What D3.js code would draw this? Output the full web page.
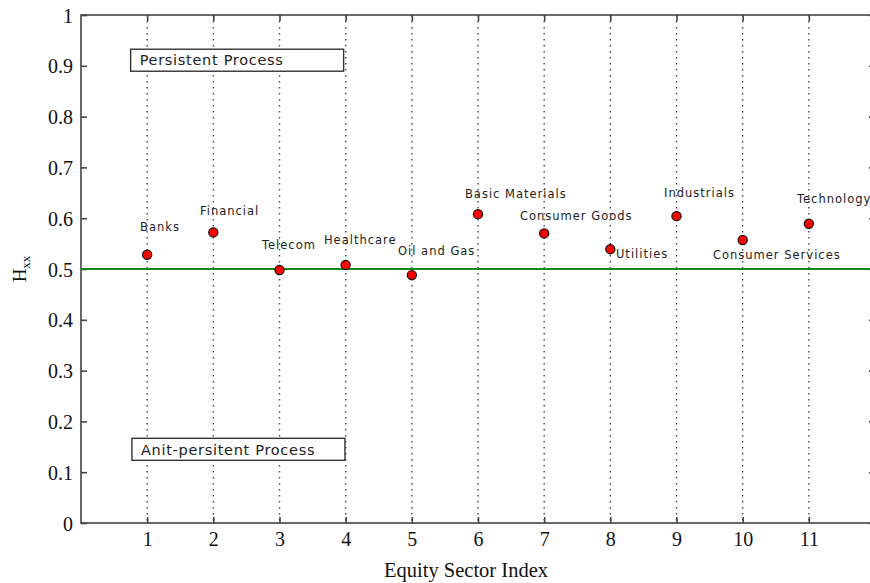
<!DOCTYPE html>
<html>
<head>
<meta charset="utf-8">
<script src="https://cdn.jsdelivr.net/npm/d3@7"></script>
<style>
  html, body { margin: 0; padding: 0; background: #fff; }
  svg { display: block; }
</style>
</head>
<body>
<svg id="chart" width="870" height="583"></svg>
<script>
// Hurst exponent per equity sector
const sectors = ["Banks", "Financial", "Telecom", "Healthcare", "Oil and Gas",
  "Basic Materials", "Consumer Goods", "Utilities", "Industrials",
  "Consumer Services", "Technology"];
const sectorIndex = [1, 2, 3, 4, 5, 6, 7, 8, 9, 10, 11];
const hurst = [0.528, 0.572, 0.498, 0.508, 0.488, 0.608, 0.570, 0.539, 0.604, 0.557, 0.589];
// label anchors (data units, left/middle of text)
const labelX = [0.892, 1.798, 2.735, 3.672, 4.791, 5.803, 6.634, 8.085, 8.811, 9.551, 10.82];
const labelY = [0.583, 0.614, 0.547, 0.557, 0.535, 0.648, 0.604, 0.529, 0.650, 0.527, 0.638];
const xTicks = [1, 2, 3, 4, 5, 6, 7, 8, 9, 10, 11];
const yTicks = [0, 0.1, 0.2, 0.3, 0.4, 0.5, 0.6, 0.7, 0.8, 0.9, 1];
const threshold = 0.5;
const regionNotes = [
  { text: "Persistent Process", x: 0.75, y: 0.911 },
  { text: "Anit-persitent Process", x: 0.77, y: 0.145 }
];

const svg = d3.select("#chart");
const plotL = 81, plotR = 875, plotT = 15, plotB = 523;
const x = d3.scaleLinear().domain([0, 12]).range([plotL, plotR]);
const y = d3.scaleLinear().domain([0, 1]).range([plotB, plotT]);

// vertical dotted grid
svg.append("g").selectAll("line").data(xTicks).join("line")
  .attr("x1", d => x(d)).attr("x2", d => x(d))
  .attr("y1", plotT).attr("y2", plotB)
  .attr("stroke", "#444").attr("stroke-width", 1.4)
  .attr("stroke-dasharray", "1.5,4.5");

// axes frame
svg.append("rect").attr("x", plotL).attr("y", plotT)
  .attr("width", plotR - plotL).attr("height", plotB - plotT)
  .attr("fill", "none").attr("stroke", "#444").attr("stroke-width", 1.6);

const tickFont = "'Liberation Serif', 'Times New Roman', serif";
const labelFont = "'DejaVu Sans', Verdana, sans-serif";
const xAxis = svg.append("g").attr("transform", `translate(0,${plotB})`)
  .call(d3.axisBottom(x).tickValues(xTicks).tickSize(-6).tickPadding(9).tickFormat(d3.format("d")));
const yAxis = svg.append("g").attr("transform", `translate(${plotL},0)`)
  .call(d3.axisLeft(y).tickValues(yTicks).tickSize(-6).tickPadding(8).tickFormat(d => d === 0 || d === 1 ? d3.format("d")(d) : d3.format(".1f")(d)));
svg.append("g").attr("transform", `translate(${plotR},0)`)
  .call(d3.axisRight(y).tickValues(yTicks).tickSize(-6).tickFormat(""));
svg.append("g").attr("transform", `translate(0,${plotT})`)
  .call(d3.axisTop(x).tickValues(xTicks).tickSize(-6).tickFormat(""));
svg.selectAll(".domain").remove();
svg.selectAll(".tick line").attr("stroke", "#444").attr("stroke-width", 1.6);
[xAxis, yAxis].forEach(g => g.selectAll("text")
  .attr("font-family", tickFont).attr("font-size", 20).attr("fill", "#111"));
yAxis.selectAll("text").attr("dy", "0.35em");

// threshold line H = 0.5
svg.append("line")
  .attr("x1", plotL).attr("x2", plotR)
  .attr("y1", y(threshold)).attr("y2", y(threshold))
  .attr("stroke", "#168a16").attr("stroke-width", 2);

// region notes
const notes = svg.append("g").selectAll("g").data(regionNotes).join("g");
notes.append("rect")
  .attr("x", d => x(d.x)).attr("y", d => y(d.y) - 11)
  .attr("width", 213).attr("height", 22)
  .attr("fill", "#fff").attr("stroke", "#333").attr("stroke-width", 1.4);
notes.append("text")
  .attr("x", d => x(d.x) + 9).attr("y", d => y(d.y))
  .attr("dy", "0.36em")
  .attr("font-family", labelFont).attr("font-size", 14.5).attr("letter-spacing", 0.7)
  .attr("fill", "#222").text(d => d.text);

// points
svg.append("g").selectAll("circle").data(sectorIndex).join("circle")
  .attr("cx", (d, i) => x(d)).attr("cy", (d, i) => y(hurst[i]))
  .attr("r", 4.6).attr("fill", "#f00").attr("stroke", "#111").attr("stroke-width", 1.2);

// sector labels
svg.append("g").selectAll("text").data(sectors).join("text")
  .attr("x", (d, i) => x(labelX[i])).attr("y", (d, i) => y(labelY[i]))
  .attr("dy", "0.35em")
  .attr("font-family", labelFont).attr("font-size", 11.5).attr("letter-spacing", 1)
  .attr("fill", "#222").text(d => d);

// axis titles
svg.append("text").attr("x", 466).attr("y", 577)
  .attr("text-anchor", "middle")
  .attr("font-family", tickFont).attr("font-size", 20.5).attr("fill", "#111")
  .text("Equity Sector Index");
const yl = svg.append("text")
  .attr("transform", `translate(26,${y(0.5)}) rotate(-90)`)
  .attr("text-anchor", "middle")
  .attr("font-family", tickFont).attr("font-size", 19).attr("fill", "#111");
yl.append("tspan").text("H");
yl.append("tspan").attr("font-size", 13).attr("dy", 4).text("xx");
</script>
</body>
</html>
